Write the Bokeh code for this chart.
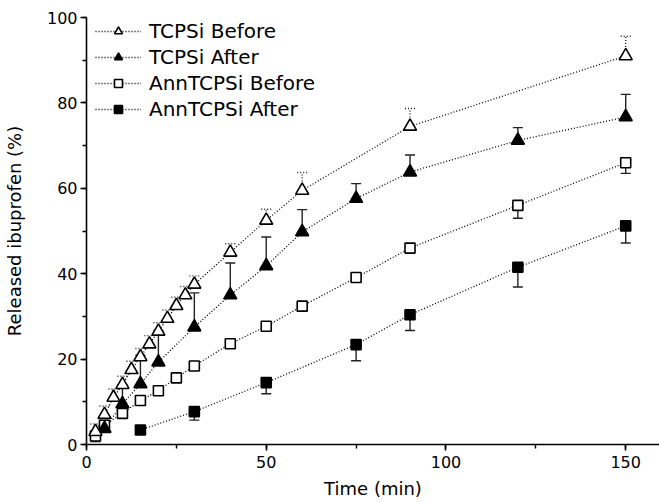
from bokeh.plotting import figure
from bokeh.models import (ColumnDataSource, Whisker, TeeHead, Range1d,
                          SingleIntervalTicker, Legend, LegendItem)
from bokeh.embed import file_html
from bokeh.resources import INLINE

# ---- data ----
t_tcpsi_before = [2.5, 5, 7.5, 10, 12.5, 15, 17.5, 20, 22.5, 25, 27.5, 30, 40, 50, 60, 90, 150]
tcpsi_before = [3, 7, 11, 14, 17.5, 20.5, 23.5, 26.5, 29.5, 32.5, 35, 37.5, 45, 52.5, 59.5, 74.5, 91]
tcpsi_before_err = [1.8, 2, 2, 2, 2, 2, 2, 2, 2, 2, 2, 2, 2, 2.6, 4.2, 4.2, 4.6]

t_tcpsi_after = [5, 10, 15, 20, 30, 40, 50, 60, 75, 90, 120, 150]
tcpsi_after = [3.7, 9.5, 14.2, 19.3, 27.5, 35, 41.8, 49.8, 57.6, 63.8, 71.2, 76.7]
tcpsi_after_err = [1, 4.5, 6.7, 7.4, 8, 7.5, 6.8, 5.2, 3.5, 4, 3, 5.3]

t_ann_before = [2.5, 5, 10, 15, 20, 25, 30, 40, 50, 60, 75, 90, 120, 150]
ann_before = [2, 4.5, 7.3, 10.3, 12.6, 15.6, 18.4, 23.6, 27.7, 32.4, 39.1, 46, 56, 66]
ann_before_err = [1.3, 0.8, 0.8, 0.8, 0.8, 0.8, 0.8, 0.8, 0.8, 0.8, 1, 1, 3, 2.5]

t_ann_after = [15, 30, 50, 75, 90, 120, 150]
ann_after = [3.4, 7.7, 14.5, 23.4, 30.4, 41.5, 51.2]
ann_after_err = [0.5, 2, 2.6, 3.8, 3.7, 4.6, 4]

labels = ["TCPSi Before", "TCPSi After", "AnnTCPSi Before", "AnnTCPSi After"]
x_label = "Time (min)"
y_label = "Released ibuprofen (%)"

FONT = "DejaVu Sans"

p = figure(width=659, height=502, output_backend="svg", toolbar_location=None,
           x_range=Range1d(0, 159.4), y_range=Range1d(0, 100),
           min_border_left=83, min_border_right=0, min_border_top=17,
           min_border_bottom=58)
p.outline_line_color = None
p.xgrid.visible = False
p.ygrid.visible = False
p.background_fill_color = "white"
p.border_fill_color = "white"

p.xaxis.ticker = SingleIntervalTicker(interval=50, num_minor_ticks=2)
p.yaxis.ticker = SingleIntervalTicker(interval=20, num_minor_ticks=2)
for ax in (p.xaxis[0], p.yaxis[0]):
    ax.axis_line_width = 1.6
    ax.axis_line_color = "black"
    ax.major_tick_line_width = 1.6
    ax.minor_tick_line_width = 1.4
    ax.major_tick_line_color = "black"
    ax.minor_tick_line_color = "black"
    ax.major_tick_in = 0
    ax.major_tick_out = 6
    ax.minor_tick_in = 0
    ax.minor_tick_out = 4
    ax.major_label_text_font = FONT
    ax.major_label_text_font_size = "16px"
    ax.major_label_text_color = "black"
    ax.axis_label_text_font = FONT
    ax.axis_label_text_font_size = "18px"
    ax.axis_label_text_font_style = "normal"
    ax.axis_label_text_color = "black"
p.xaxis.axis_label = x_label
p.yaxis.axis_label = y_label
p.xaxis.major_label_standoff = 5
p.xaxis.axis_label_standoff = 7
p.yaxis.major_label_standoff = 3
p.yaxis.axis_label_standoff = 19

DASH = "1 2"
ERR_COLOR = "#222222"


def add_err(t, y, e, up=True, dotted=False):
    if up:
        upper = [a + b for a, b in zip(y, e)]
        lower = list(y)
    else:
        upper = list(y)
        lower = [a - b for a, b in zip(y, e)]
    src = ColumnDataSource(dict(x=t, upper=upper, lower=lower))
    dash = DASH if dotted else "solid"
    head = TeeHead(size=10, line_color=ERR_COLOR, line_width=1.4, line_dash=dash)
    w = Whisker(base="x", upper="upper", lower="lower", source=src,
                dimension="height", line_color=ERR_COLOR, line_width=1.4,
                line_dash=dash, level="underlay")
    if up:
        w.upper_head = head
        w.lower_head = None
    else:
        w.lower_head = head
        w.upper_head = None
    p.add_layout(w)


add_err(t_ann_after, ann_after, ann_after_err, up=False)
add_err(t_ann_before, ann_before, ann_before_err, up=False)
add_err(t_tcpsi_after, tcpsi_after, tcpsi_after_err, up=True)
add_err(t_tcpsi_before, tcpsi_before, tcpsi_before_err, up=True, dotted=True)

series = [
    (t_tcpsi_before, tcpsi_before, "triangle", "white", 13),
    (t_tcpsi_after, tcpsi_after, "triangle", "black", 13),
    (t_ann_before, ann_before, "square", "white", 10),
    (t_ann_after, ann_after, "square", "black", 10),
]

items = []
line_rs = []
for (t, y, m, fill, size), lab in zip(series, labels):
    src = ColumnDataSource(dict(x=t, y=y))
    lr = p.line("x", "y", source=src, line_color="black", line_width=1.3,
                line_dash=DASH)
    line_rs.append((lr, src, m, fill, size, lab))

for lr, src, m, fill, size, lab in reversed(line_rs):
    sr = p.scatter("x", "y", source=src, marker=m, size=size,
                   fill_color=fill, line_color="black", line_width=1.6)
    items.insert(0, LegendItem(label=lab, renderers=[lr, sr]))

legend = Legend(items=items, location=(9, 323))
legend.background_fill_alpha = 0
legend.border_line_color = None
legend.padding = 0
legend.margin = 0
legend.spacing = 2
legend.glyph_width = 46
legend.glyph_height = 20
legend.label_height = 20
legend.label_standoff = 8
legend.label_text_font = FONT
legend.label_text_font_size = "20px"
legend.label_text_color = "black"
p.add_layout(legend)

open("out.html", "w").write(file_html(p, INLINE))
